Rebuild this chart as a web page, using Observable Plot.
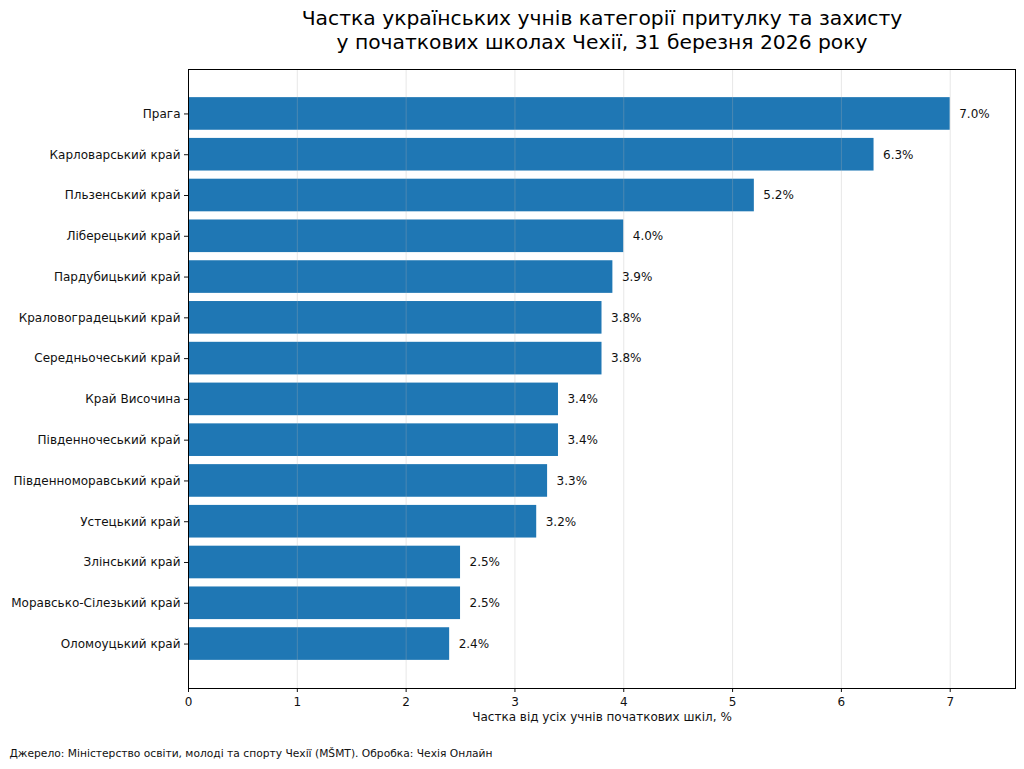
<!DOCTYPE html>
<html>
<head>
<meta charset="utf-8">
<script src="https://cdn.jsdelivr.net/npm/d3@7"></script>
<script src="https://cdn.jsdelivr.net/npm/@observablehq/plot@0.6"></script>
<style>
  body { margin: 0; background: #fff; }
  #chart svg { display: block; }
</style>
</head>
<body>
<div id="chart"></div>
<script>
const regions = [
  "Прага",
  "Карловарський край",
  "Пльзенський край",
  "Ліберецький край",
  "Пардубицький край",
  "Краловоградецький край",
  "Середньочеський край",
  "Край Височина",
  "Південночеський край",
  "Південноморавський край",
  "Устецький край",
  "Злінський край",
  "Моравсько-Сілезький край",
  "Оломоуцький край"
];
const shares = [7.0, 6.3, 5.2, 4.0, 3.9, 3.8, 3.8, 3.4, 3.4, 3.3, 3.2, 2.5, 2.5, 2.4];
const xTicks = [0, 1, 2, 3, 4, 5, 6, 7];
const titleLines = [
  "Частка українських учнів категорії притулку та захисту",
  "у початкових школах Чехії, 31 березня 2026 року"
];
const xLabel = "Частка від усіх учнів початкових шкіл, %";
const caption = "Джерело: Міністерство освіти, молоді та спорту Чехії (MŠMT). Обробка: Чехія Онлайн";

const data = regions.map((r, i) => ({region: r, value: shares[i]}));

const chart = Plot.plot({
  width: 1024,
  height: 769,
  marginTop: 69,
  marginBottom: 81,
  marginLeft: 188,
  marginRight: 9,
  style: {fontFamily: "DejaVu Sans", fontSize: "12px", color: "#111", background: "#fff"},
  x: {domain: [0, 7.6]},
  y: {domain: regions, paddingInner: 0.2, paddingOuter: 0.69, round: false, label: null},
  marks: [
    Plot.barX(data, {x: "value", y: "region", fill: "#1f77b4"}),
    Plot.gridX(xTicks, {stroke: "#b0b0b0", strokeOpacity: 0.3, strokeWidth: 1}),
    Plot.text(data, {x: "value", y: "region", text: d => d.value.toFixed(1) + "%", textAnchor: "start", dx: 9, fill: "#111", fontSize: 12}),
    Plot.axisX({ticks: xTicks, tickSize: 4, tickPadding: 5, tickFormat: d => String(d), label: null, fontSize: 12}),
    Plot.axisY({tickSize: 4, tickPadding: 4, label: null, fontSize: 12}),
    Plot.frame({stroke: "#000", strokeWidth: 1}),
    Plot.text([xLabel], {frameAnchor: "bottom", lineAnchor: "middle", dy: 29, text: d => d, fontSize: 12, fill: "#111"}),
    Plot.text([titleLines[0]], {frameAnchor: "top", lineAnchor: "middle", dy: -51, text: d => d, fontSize: 20.3, fill: "#000"}),
    Plot.text([titleLines[1]], {frameAnchor: "top", lineAnchor: "middle", dy: -27, text: d => d, fontSize: 20.3, fill: "#000"}),
    Plot.text([caption], {frameAnchor: "bottom-left", lineAnchor: "middle", textAnchor: "start", dx: -179, dy: 65, text: d => d, fontSize: 10.7, fill: "#111"})
  ]
});
document.getElementById("chart").appendChild(chart);
</script>
</body>
</html>
